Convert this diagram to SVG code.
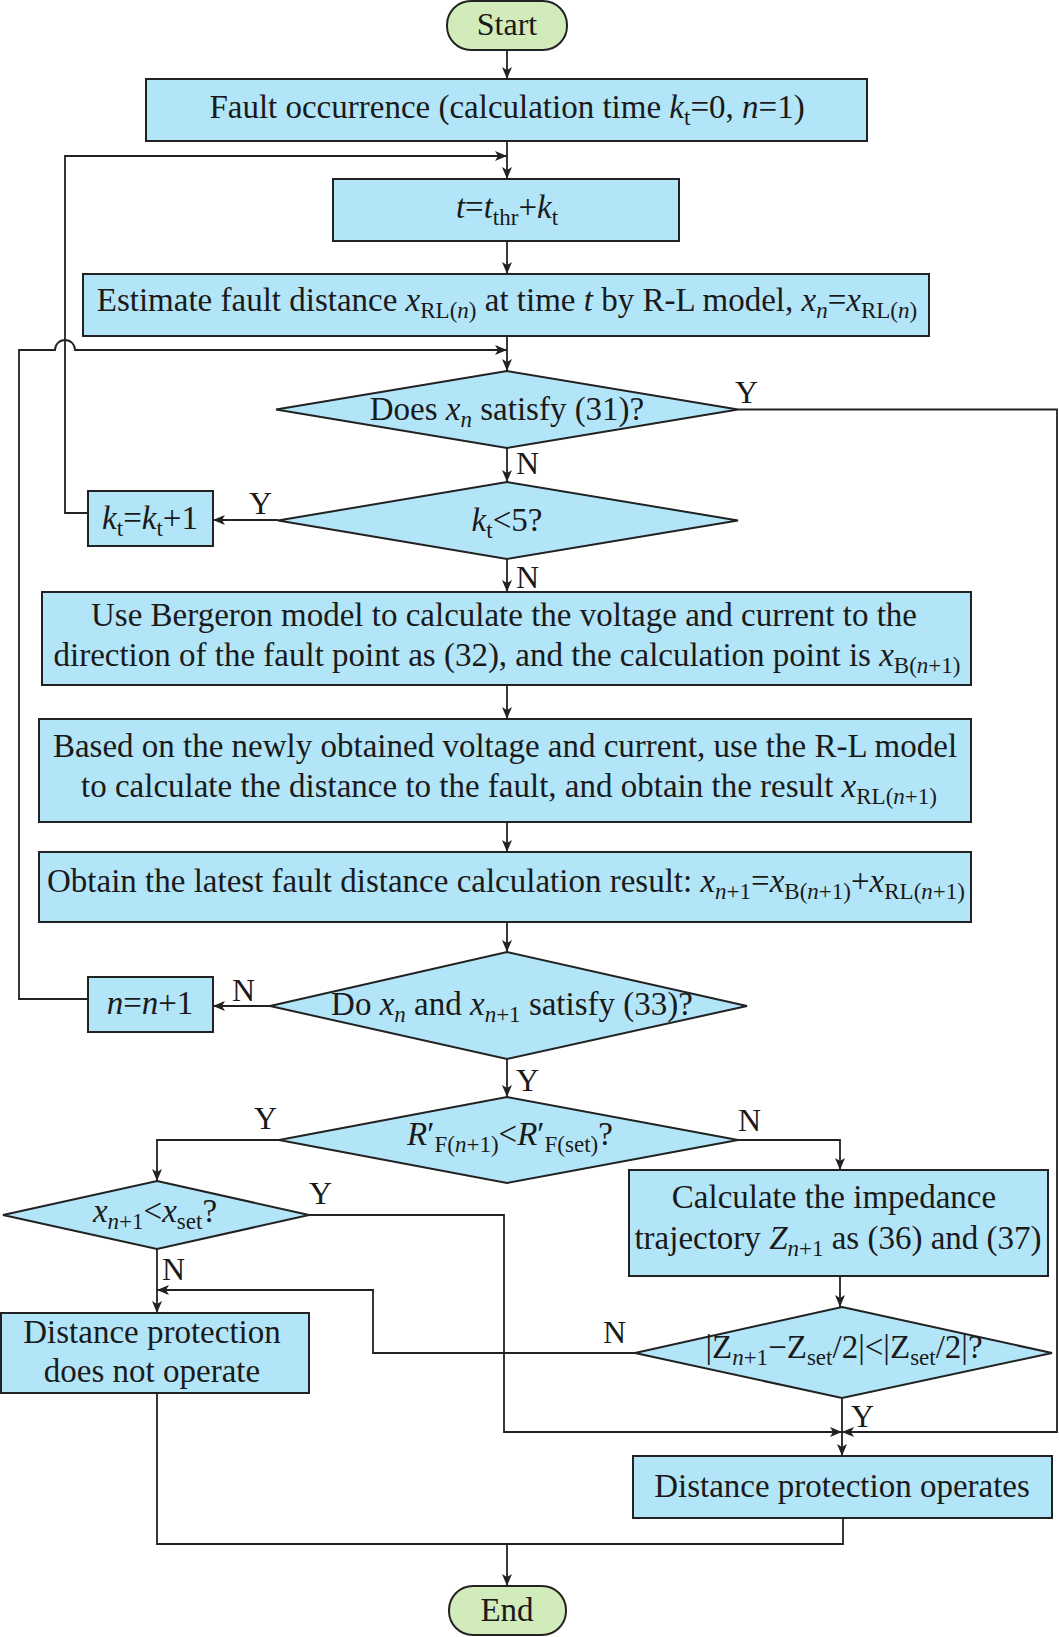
<svg xmlns="http://www.w3.org/2000/svg" width="1059" height="1637" viewBox="0 0 1059 1637">
<defs>
<style>
.box{fill:#b3e5f8;stroke:#222;stroke-width:2}
.term{fill:#d2ebba;stroke:#222;stroke-width:2}
.t{font-family:"Liberation Serif","Times New Roman",serif;font-size:33px;fill:#1a1a1a;text-anchor:middle}
.lbl{font-family:"Liberation Serif","Times New Roman",serif;font-size:32px;fill:#1a1a1a}
.i{font-style:italic}
.s{font-size:23px}
.c{fill:none;stroke:#222;stroke-width:1.8}
.a{marker-end:url(#ah)}
</style>
<marker id="ah" markerUnits="userSpaceOnUse" markerWidth="14" markerHeight="10" refX="12" refY="5" orient="auto">
<path d="M0,0 L12,5 L0,10 L3,5 Z" fill="#222"/>
</marker>
</defs>

<g id="connectors">
<path class="c a" d="M507,51 V79"/>
<path class="c a" d="M507,141 V179"/>
<path class="c a" d="M88,513 H65 V156 H507"/>
<path class="c a" d="M507,241 V274"/>
<path class="c a" d="M507,336 V371"/>
<path class="c a" d="M88,999 H19 V350 H55 A10,10 0 0 1 75,350 H507"/>
<path class="c a" d="M738,409.5 H1057 V1432 H842"/>
<path class="c a" d="M507,448 V482"/>
<path class="c a" d="M278,520 H213"/>
<path class="c a" d="M507,559 V592"/>
<path class="c a" d="M507,685 V719"/>
<path class="c a" d="M507,822 V852"/>
<path class="c a" d="M507,922 V952"/>
<path class="c a" d="M270,1006 H213"/>
<path class="c a" d="M507,1059 V1097"/>
<path class="c a" d="M279,1140 H157 V1181"/>
<path class="c a" d="M738,1140 H840 V1170"/>
<path class="c a" d="M309,1215 H504 V1432 H842"/>
<path class="c a" d="M157,1249 V1313"/>
<path class="c a" d="M635,1353 H373 V1290 H157"/>
<path class="c a" d="M840,1276 V1307"/>
<path class="c a" d="M842,1398 V1456"/>
<path class="c" d="M843,1518 V1544 H157 V1393"/>
<path class="c a" d="M507,1544 V1586"/>
</g>

<g id="labels">
<text class="lbl" x="735" y="403">Y</text>
<text class="lbl" x="516" y="474">N</text>
<text class="lbl" x="249" y="514">Y</text>
<text class="lbl" x="516" y="588">N</text>
<text class="lbl" x="232" y="1001">N</text>
<text class="lbl" x="516" y="1091">Y</text>
<text class="lbl" x="254" y="1129">Y</text>
<text class="lbl" x="738" y="1131">N</text>
<text class="lbl" x="309" y="1204">Y</text>
<text class="lbl" x="162" y="1280">N</text>
<text class="lbl" x="603" y="1343">N</text>
<text class="lbl" x="851" y="1427">Y</text>
</g>

<g id="start">
<rect class="term" x="447" y="1" width="120" height="49" rx="24" ry="24"/>
<text class="t" x="507" y="35" style="font-size:32px">Start</text>
</g>

<g id="fault">
<rect class="box" x="146" y="79" width="721" height="62"/>
<text class="t" x="507" y="118">Fault occurrence (calculation time <tspan class="i">k</tspan><tspan class="s" dy="7">t</tspan><tspan dy="-7">=0, </tspan><tspan class="i">n</tspan>=1)</text>
</g>

<g id="tcalc">
<rect class="box" x="333" y="179" width="346" height="62"/>
<text class="t" x="507" y="218"><tspan class="i">t</tspan>=<tspan class="i">t</tspan><tspan class="s" dy="7">thr</tspan><tspan dy="-7">+</tspan><tspan class="i">k</tspan><tspan class="s" dy="7">t</tspan></text>
</g>

<g id="estimate">
<rect class="box" x="83" y="274" width="846" height="62"/>
<text class="t" x="507" y="311">Estimate fault distance <tspan class="i">x</tspan><tspan class="s" dy="7">RL(<tspan class="i">n</tspan>)</tspan><tspan dy="-7"> at time </tspan><tspan class="i">t</tspan> by R-L model, <tspan class="i">x</tspan><tspan class="s i" dy="7">n</tspan><tspan dy="-7">=</tspan><tspan class="i">x</tspan><tspan class="s" dy="7">RL(<tspan class="i">n</tspan>)</tspan></text>
</g>

<g id="d1">
<polygon class="box" points="507,371 738,409.5 507,448 276,409.5"/>
<text class="t" x="507" y="420">Does <tspan class="i">x</tspan><tspan class="s i" dy="7">n</tspan><tspan dy="-7"> satisfy (31)?</tspan></text>
</g>

<g id="d2">
<polygon class="box" points="507,482 738,520.5 507,559 278,520.5"/>
<text class="t" x="507" y="531"><tspan class="i">k</tspan><tspan class="s" dy="7">t</tspan><tspan dy="-7">&lt;5?</tspan></text>
</g>

<g id="ktbox">
<rect class="box" x="88" y="491" width="125" height="55"/>
<text class="t" x="150" y="529"><tspan class="i">k</tspan><tspan class="s" dy="7">t</tspan><tspan dy="-7">=</tspan><tspan class="i">k</tspan><tspan class="s" dy="7">t</tspan><tspan dy="-7">+1</tspan></text>
</g>

<g id="bergeron">
<rect class="box" x="42" y="592" width="929" height="93"/>
<text class="t" x="504" y="626">Use Bergeron model to calculate the voltage and current to the</text>
<text class="t" x="507" y="666">direction of the fault point as (32), and the calculation point is <tspan class="i">x</tspan><tspan class="s" dy="7">B(<tspan class="i">n</tspan>+1)</tspan></text>
</g>

<g id="based">
<rect class="box" x="39" y="719" width="932" height="103"/>
<text class="t" x="505" y="757">Based on the newly obtained voltage and current, use the R-L model</text>
<text class="t" x="509" y="797">to calculate the distance to the fault, and obtain the result <tspan class="i">x</tspan><tspan class="s" dy="7">RL(<tspan class="i">n</tspan>+1)</tspan></text>
</g>

<g id="obtain">
<rect class="box" x="39" y="852" width="932" height="70"/>
<text class="t" x="506" y="892">Obtain the latest fault distance calculation result: <tspan class="i">x</tspan><tspan class="s" dy="7"><tspan class="i">n</tspan>+1</tspan><tspan dy="-7">=</tspan><tspan class="i">x</tspan><tspan class="s" dy="7">B(<tspan class="i">n</tspan>+1)</tspan><tspan dy="-7">+</tspan><tspan class="i">x</tspan><tspan class="s" dy="7">RL(<tspan class="i">n</tspan>+1)</tspan></text>
</g>

<g id="d3">
<polygon class="box" points="507,952 747,1006 507,1059 270,1006"/>
<text class="t" x="512" y="1015">Do <tspan class="i">x</tspan><tspan class="s i" dy="7">n</tspan><tspan dy="-7"> and </tspan><tspan class="i">x</tspan><tspan class="s" dy="7"><tspan class="i">n</tspan>+1</tspan><tspan dy="-7"> satisfy (33)?</tspan></text>
</g>

<g id="nbox">
<rect class="box" x="88" y="977" width="125" height="55"/>
<text class="t" x="150" y="1014"><tspan class="i">n</tspan>=<tspan class="i">n</tspan>+1</text>
</g>

<g id="d4">
<polygon class="box" points="507,1097 738,1140 507,1183 279,1140"/>
<text class="t" x="510" y="1145"><tspan class="i">R</tspan>′<tspan class="s" dy="7">F(<tspan class="i">n</tspan>+1)</tspan><tspan dy="-7">&lt;</tspan><tspan class="i">R</tspan>′<tspan class="s" dy="7">F(set)</tspan><tspan dy="-7">?</tspan></text>
</g>

<g id="d5">
<polygon class="box" points="157,1181 309,1215 157,1249 3,1215"/>
<text class="t" x="155" y="1222"><tspan class="i">x</tspan><tspan class="s" dy="7"><tspan class="i">n</tspan>+1</tspan><tspan dy="-7">&lt;</tspan><tspan class="i">x</tspan><tspan class="s" dy="7">set</tspan><tspan dy="-7">?</tspan></text>
</g>

<g id="calc">
<rect class="box" x="629" y="1170" width="419" height="106"/>
<text class="t" x="834" y="1208">Calculate the impedance</text>
<text class="t" x="838" y="1249">trajectory <tspan class="i">Z</tspan><tspan class="s" dy="7"><tspan class="i">n</tspan>+1</tspan><tspan dy="-7"> as (36) and (37)</tspan></text>
</g>

<g id="d6">
<polygon class="box" points="842,1307 1052,1353 842,1398 635,1353"/>
<text class="t" x="844" y="1358">|Z<tspan class="s" dy="7"><tspan class="i">n</tspan>+1</tspan><tspan dy="-7">−Z</tspan><tspan class="s" dy="7">set</tspan><tspan dy="-7">/2|&lt;|Z</tspan><tspan class="s" dy="7">set</tspan><tspan dy="-7">/2|?</tspan></text>
</g>

<g id="notop">
<rect class="box" x="1" y="1313" width="308" height="80"/>
<text class="t" x="152" y="1343">Distance protection</text>
<text class="t" x="152" y="1382">does not operate</text>
</g>

<g id="operates">
<rect class="box" x="633" y="1456" width="419" height="62"/>
<text class="t" x="842" y="1497">Distance protection operates</text>
</g>

<g id="end">
<rect class="term" x="449" y="1586" width="117" height="49" rx="24" ry="24"/>
<text class="t" x="507" y="1621">End</text>
</g>
</svg>
